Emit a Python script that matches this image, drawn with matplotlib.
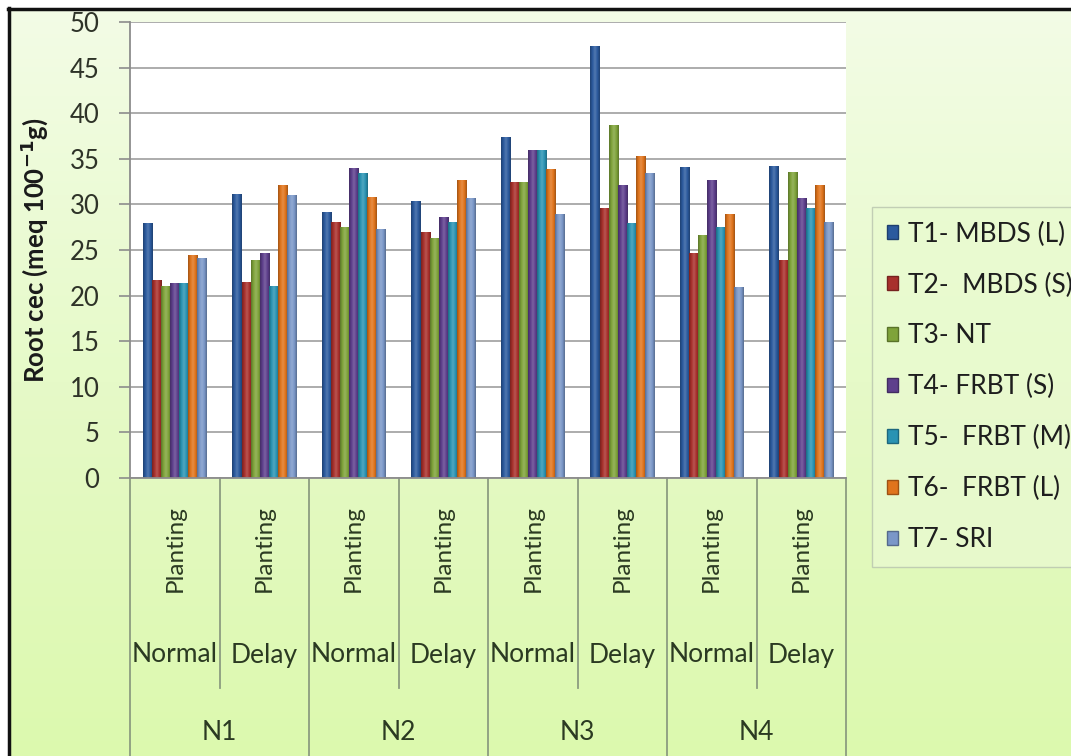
import numpy as np
import matplotlib
matplotlib.use('Agg')
import matplotlib.pyplot as plt
from matplotlib.colors import LinearSegmentedColormap, to_rgb
from matplotlib.patches import Rectangle
from matplotlib.transforms import blended_transform_factory

plt.rcParams['font.family'] = ['Lato', 'DejaVu Sans']

# Data
nitrogen = ['N1', 'N2', 'N3', 'N4']
planting = ['Normal', 'Delay']
treatments = ['T1- MBDS (L)', 'T2-  MBDS (S)', 'T3- NT', 'T4- FRBT (S)',
              'T5-  FRBT (M)', 'T6-  FRBT (L)', 'T7- SRI']
# one list per treatment, order: N1 Normal, N1 Delay, N2 Normal, ... N4 Delay
t1 = [27.9, 31.1, 29.1, 30.3, 37.3, 47.3, 34.1, 34.2]
t2 = [21.7, 21.4, 28.0, 26.9, 32.4, 29.6, 24.6, 23.9]
t3 = [21.0, 23.9, 27.5, 26.3, 32.4, 38.6, 26.6, 33.5]
t4 = [21.3, 24.6, 33.9, 28.6, 35.9, 32.1, 32.6, 30.7]
t5 = [21.3, 21.0, 33.4, 28.0, 35.9, 27.9, 27.5, 29.6]
t6 = [24.4, 32.1, 30.8, 32.6, 33.8, 35.2, 28.9, 32.1]
t7 = [24.1, 31.0, 27.3, 30.7, 28.9, 33.4, 20.9, 28.0]
series = [t1, t2, t3, t4, t5, t6, t7]

colors = ['#2B5A9E', '#A8302C', '#7FA33A', '#5E3F8C', '#2A93B3', '#E0741C', '#7A97C8']
txt_c = '#2B3A22'

W, H = 1071, 756
fig = plt.figure(figsize=(W / 100, H / 100), dpi=100)
fig.patch.set_facecolor('white')

# chart background: soft green vertical gradient inside a black frame
bg = fig.add_axes([8 / W, 0, 1 - 8 / W, 1 - 8 / H])
bg.set_axis_off()
grad = np.linspace(0, 1, 256).reshape(-1, 1)
bg_cmap = LinearSegmentedColormap.from_list('bg', ['#F3FCE6', '#E6FAC8', '#DCF9AE'])
bg.imshow(grad, cmap=bg_cmap, aspect='auto', extent=[0, 1, 0, 1], origin='upper')
bg.set_xlim(0, 1)
bg.set_ylim(0, 1)
fig.add_artist(plt.Line2D([8 / W, 1], [1 - 9 / H, 1 - 9 / H], color='#111111', lw=2.5))
fig.add_artist(plt.Line2D([9 / W, 9 / W], [0, 1 - 8 / H], color='#111111', lw=2.5))

x0, x1, y_top, y_bot = 130, 846, 22, 478
ax = fig.add_axes([x0 / W, 1 - y_bot / H, (x1 - x0) / W, (y_bot - y_top) / H])
ax.set_facecolor('white')

n_cat = len(nitrogen) * len(planting)
x = np.arange(n_cat)
group_w = 0.71
bw = group_w / len(series)

for i, (vals, c) in enumerate(zip(series, colors)):
    pos = x - group_w / 2 + bw * (i + 0.5)
    bars = ax.bar(pos, vals, width=bw, color=c, zorder=3, linewidth=0)
    base = np.array(to_rgb(c))
    dark = base * 0.72
    light = np.clip(base + (1 - base) * 0.18, 0, 1)
    cm = LinearSegmentedColormap.from_list('b%d' % i, [dark, base, light, base, dark])
    for b in bars:
        bx, by = b.get_x(), b.get_y()
        ax.imshow(np.linspace(0, 1, 64).reshape(1, -1), cmap=cm, aspect='auto',
                  extent=[bx, bx + b.get_width(), by, by + b.get_height()], zorder=4)

ax.set_xlim(-0.5, n_cat - 0.5)
ax.set_ylim(0, 50)
ax.set_yticks(np.arange(0, 51, 5))
ax.yaxis.grid(True, color='#A6A6A6', lw=1.3, zorder=1)
ax.set_axisbelow(True)
for s in ['top', 'right', 'bottom']:
    ax.spines[s].set_visible(False)
ax.spines['left'].set_color('#8C8C8C')
ax.spines['left'].set_linewidth(1.3)
ax.tick_params(axis='y', direction='out', length=8, width=1.2, color='#8C8C8C',
               labelsize=18.5, labelcolor='#2E3328', pad=14)
ax.set_xticks([])

ax.set_ylabel(r'Root cec (meq 100$^{\mathbf{-1}}$g)', fontsize=18.5, fontweight='bold',
              color='#1A1A1A')
ax.yaxis.set_label_coords(-0.112, 0.5)

# multi-level category axis below the plot
tr = blended_transform_factory(ax.transData, ax.transAxes)
ph = y_bot - y_top
bottom_frac = -(H - y_bot) / ph
inner_frac = -(688 - y_bot) / ph
line_c = '#8C9C80'
for k in range(n_cat + 1):
    yb = bottom_frac if k % 2 == 0 else inner_frac
    ax.plot([k - 0.5, k - 0.5], [0, yb], transform=tr, color=line_c, lw=1.3, clip_on=False)
ax.plot([-0.5, n_cat - 0.5], [0, 0], transform=tr, color='#8C8C8C', lw=1.3,
        clip_on=False, zorder=5)

for k in range(n_cat):
    ax.text(k, -(549 - y_bot) / ph, 'Planting', transform=tr, rotation=90,
            ha='center', va='center', fontsize=17.5, color=txt_c)
    ax.text(k, -(655 - y_bot) / ph, planting[k % 2], transform=tr,
            ha='center', va='center', fontsize=19, color=txt_c)
for g, name in enumerate(nitrogen):
    ax.text(2 * g + 0.5, -(733 - y_bot) / ph, name, transform=tr,
            ha='center', va='center', fontsize=19, color=txt_c)

handles = [Rectangle((0, 0), 1, 1, facecolor=c, edgecolor=np.array(to_rgb(c)) * 0.7)
           for c in colors]
leg = fig.legend(handles, treatments, loc='upper left',
                 bbox_to_anchor=(872 / W, 1 - 207 / H), frameon=True,
                 fontsize=19, handlelength=0.45, handleheight=0.45,
                 handletextpad=0.35, labelspacing=0.98, borderpad=0.55,
                 borderaxespad=0, fancybox=False)
leg.get_frame().set_facecolor('#E9FAD0')
leg.get_frame().set_edgecolor('#B8C4AE')
leg.get_frame().set_linewidth(1.0)
for t in leg.get_texts():
    t.set_color('#1E1E1E')

fig.savefig('out.png', dpi=100)
